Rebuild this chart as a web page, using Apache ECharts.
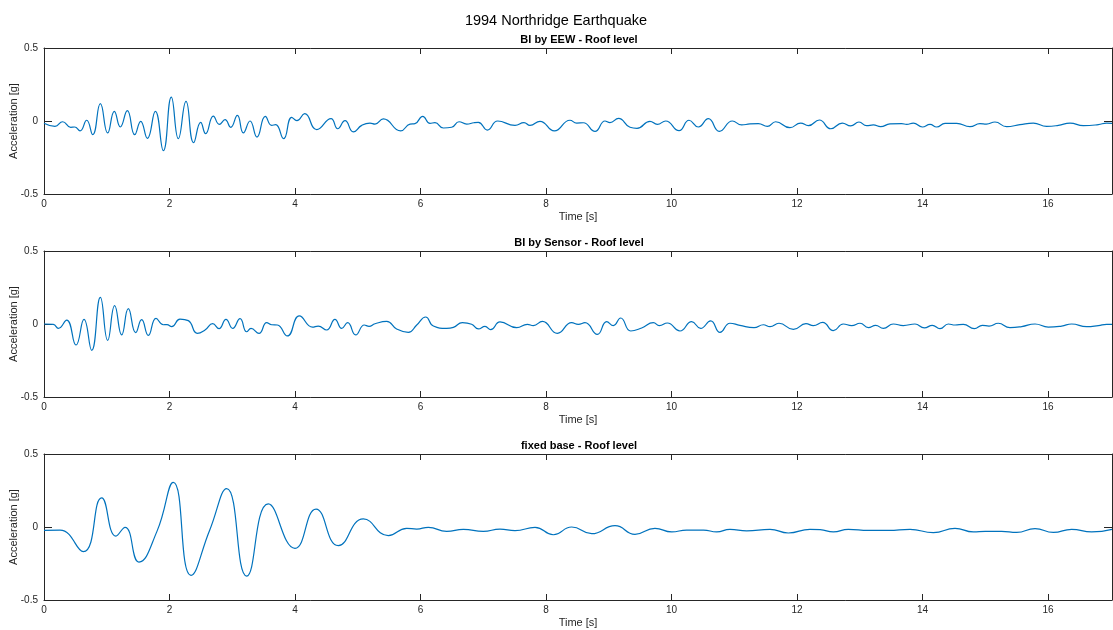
<!DOCTYPE html>
<html>
<head>
<meta charset="utf-8">
<script src="https://cdn.jsdelivr.net/npm/echarts@6/dist/echarts.min.js"></script>
<style>html,body{margin:0;padding:0;background:#fff}#c{width:1113px;height:630px}</style>
</head>
<body>
<div id="c"></div>
<script>
const figureTitle = '1994 Northridge Earthquake';
const panelTitles = ['BI by EEW - Roof level', 'BI by Sensor - Roof level', 'fixed base - Roof level'];
const xTickLabels = ['0', '2', '4', '6', '8', '10', '12', '14', '16'];
const yTickLabels = ['-0.5', '0', '0.5'];

const eewT = [0,0.175,0.297,0.425,0.489,0.574,0.680,0.776,0.898,1.015,1.121,1.216,1.328,1.445,1.541,1.647,1.774,1.902,2.029,2.141,2.263,2.385,2.497,2.576,2.699,2.794,2.885,2.975,3.081,3.177,3.283,3.394,3.527,3.628,3.692,3.819,3.947,4.03,4.154,4.345,4.574,4.680,4.797,4.930,5.063,5.195,5.275,5.408,5.684,5.833,5.912,6.035,6.151,6.231,6.364,6.497,6.614,6.736,6.850,6.922,7.065,7.230,7.506,7.649,7.745,7.904,8.133,8.382,8.489,8.595,8.781,8.940,9.020,9.156,9.339,9.450,9.657,9.774,9.907,10.120,10.279,10.428,10.587,10.762,10.970,11.118,11.250,11.384,11.527,11.660,11.888,12.058,12.181,12.356,12.537,12.722,12.855,12.988,13.110,13.216,13.333,13.482,13.668,13.748,13.854,13.998,14.120,14.226,14.359,14.545,14.757,14.916,15.020,15.155,15.341,15.554,15.766,15.979,16.165,16.351,16.563,16.802,16.935,17.02];
const eewA = [-0.016,-0.037,-0.005,-0.043,-0.041,-0.068,0.005,-0.094,0.119,-0.082,0.066,-0.041,0.071,-0.094,-0.002,-0.119,0.066,-0.203,0.164,-0.121,0.135,-0.148,-0.009,-0.087,0.034,-0.023,0.009,-0.043,0.039,-0.082,0.000,-0.110,0.032,-0.030,-0.025,-0.121,0.025,0.002,0.050,-0.059,0.016,-0.053,0.002,-0.075,-0.030,-0.014,-0.021,0.014,-0.068,-0.021,-0.018,0.032,-0.016,-0.011,-0.048,-0.043,-0.005,-0.021,-0.012,-0.009,-0.062,0.000,-0.030,-0.011,-0.030,-0.002,-0.068,0.005,-0.014,-0.012,-0.071,0.000,-0.011,0.018,-0.043,-0.050,-0.002,-0.023,0.000,-0.066,0.005,-0.041,0.016,-0.071,0.000,-0.027,-0.020,-0.018,-0.037,-0.005,-0.046,-0.014,-0.032,0.007,-0.053,-0.014,-0.034,-0.007,-0.032,-0.027,-0.039,-0.020,-0.018,-0.023,-0.014,-0.041,-0.023,-0.041,-0.016,-0.016,-0.039,-0.018,-0.021,-0.007,-0.039,-0.025,-0.014,-0.037,-0.030,-0.014,-0.032,-0.025,-0.014,-0.016];

const sensorT = [0,0.149,0.228,0.361,0.510,0.637,0.760,0.898,1.015,1.126,1.238,1.344,1.461,1.556,1.663,1.785,1.902,1.960,2.035,2.167,2.300,2.443,2.566,2.688,2.789,2.900,3.007,3.124,3.230,3.299,3.426,3.549,3.628,3.719,3.878,4.069,4.28,4.37,4.505,4.637,4.744,4.839,4.967,5.105,5.180,5.275,5.461,5.620,5.806,5.940,6.082,6.205,6.417,6.524,6.667,6.815,6.922,7.028,7.118,7.267,7.533,7.703,7.798,7.942,8.181,8.409,8.515,8.621,8.818,8.967,9.073,9.190,9.350,9.525,9.711,9.806,9.934,10.135,10.321,10.465,10.624,10.773,10.932,11.090,11.315,11.464,11.570,11.713,11.942,12.143,12.260,12.409,12.579,12.738,12.871,13.004,13.137,13.254,13.376,13.535,13.694,13.880,14.029,14.157,14.279,14.412,14.518,14.651,14.826,14.954,15.060,15.208,15.394,15.580,15.793,16.005,16.218,16.377,16.616,16.802,16.935,17.02];
const sensorA = [0.000,-0.003,-0.030,0.027,-0.144,0.032,-0.180,0.183,-0.112,0.126,-0.075,0.105,-0.059,0.030,-0.078,0.039,-0.005,-0.004,-0.018,0.034,0.023,-0.064,-0.041,0.002,-0.032,0.032,-0.030,0.037,-0.053,-0.030,-0.064,0.009,-0.005,-0.007,-0.082,0.055,-0.022,-0.014,-0.041,0.032,-0.030,0.009,-0.075,-0.007,-0.016,0.002,0.018,-0.034,-0.057,-0.007,0.048,-0.014,-0.030,-0.023,0.009,-0.002,-0.034,-0.016,-0.039,0.014,-0.025,-0.002,-0.011,0.018,-0.064,0.009,-0.002,0.009,-0.071,0.016,-0.011,0.041,-0.048,-0.027,0.009,-0.011,0.007,-0.048,0.016,-0.030,0.021,-0.057,0.005,-0.009,-0.025,-0.005,-0.018,0.005,-0.037,0.002,-0.011,0.011,-0.046,0.000,-0.011,0.005,-0.025,-0.009,-0.030,0.000,-0.011,0.000,-0.027,-0.009,-0.032,0.000,-0.007,-0.002,-0.032,-0.009,-0.014,0.005,-0.025,-0.018,0.000,-0.021,-0.014,0.000,-0.018,-0.011,-0.002,-0.002];

const fixedT = [0,0.255,0.627,0.919,1.147,1.291,1.514,1.800,2.061,2.343,2.640,2.911,3.230,3.575,4.000,4.335,4.691,5.089,5.487,5.780,5.940,6.125,6.417,6.683,7.001,7.267,7.506,7.825,8.117,8.409,8.728,9.100,9.418,9.737,10.003,10.240,10.510,10.720,10.932,11.198,11.570,11.862,12.207,12.370,12.579,12.818,13.140,13.459,13.801,14.173,14.518,14.810,15.000,15.260,15.501,15.793,16.085,16.377,16.696,17.02];
const fixedA = [-0.023,-0.021,-0.169,0.199,-0.062,-0.002,-0.240,-0.030,0.306,-0.331,-0.022,0.263,-0.336,0.158,-0.146,0.123,-0.128,0.055,-0.059,-0.009,-0.014,-0.002,-0.030,-0.016,-0.030,-0.014,-0.025,-0.002,-0.053,0.000,-0.046,0.009,-0.050,-0.009,-0.034,-0.021,-0.021,-0.034,-0.016,-0.027,-0.016,-0.041,-0.016,-0.018,-0.034,-0.016,-0.023,-0.023,-0.016,-0.039,-0.009,-0.034,-0.030,-0.030,-0.037,-0.011,-0.037,-0.016,-0.034,-0.016];

const seriesT = [eewT, sensorT, fixedT];
const seriesA = [eewA, sensorA, fixedA];

const FONT = '"Liberation Sans", Arial, Helvetica, sans-serif';
const AX = '#262626';
const LINE = '#0072BD';
const gridTops = [48, 251, 454];
const H = 146;

const grids = [], xAxes = [], yAxes = [], series = [], titles = [];
titles.push({text: figureTitle, left: 551, top: 8, textAlign: 'center',
  textStyle: {fontFamily: FONT, fontSize: 14.5, fontWeight: 'normal', color: '#000'}});

for (let i = 0; i < 3; i++) {
  grids.push({left: 44, top: gridTops[i], width: 1068, height: H, containLabel: false, outerBoundsMode: 'none'});
  titles.push({text: panelTitles[i], left: 574, top: gridTops[i] - 19, textAlign: 'center',
    textStyle: {fontFamily: FONT, fontSize: 11, fontWeight: 'bold', color: '#000'}});
  const xCommon = {type: 'value', gridIndex: i, min: 0, max: 17.02, interval: 2,
    axisLine: {show: true, onZero: false, lineStyle: {color: AX, width: 1}},
    axisTick: {show: true, inside: true, length: 6, lineStyle: {color: AX}},
    splitLine: {show: false}};
  xAxes.push(Object.assign({}, xCommon, {position: 'bottom',
    name: 'Time [s]', nameLocation: 'middle', nameGap: 17,
    nameTextStyle: {fontFamily: FONT, fontSize: 11, color: AX},
    axisLabel: {show: true, showMaxLabel: false, margin: 5, fontFamily: FONT, fontSize: 10, color: AX,
      formatter: v => (xTickLabels.indexOf(String(v)) >= 0 ? String(v) : '')}}));
  xAxes.push(Object.assign({}, xCommon, {position: 'top', axisLabel: {show: false}}));
  const yCommon = {type: 'value', gridIndex: i, min: -0.5, max: 0.5, interval: 0.5,
    axisLine: {show: true, onZero: false, lineStyle: {color: AX, width: 1}},
    axisTick: {show: true, inside: true, length: 8, lineStyle: {color: AX}},
    splitLine: {show: false}};
  yAxes.push(Object.assign({}, yCommon, {position: 'left',
    name: 'Acceleration [g]', nameLocation: 'middle', nameGap: 25, nameRotate: 90, nameMoveOverlap: false,
    nameTextStyle: {fontFamily: FONT, fontSize: 11, color: AX},
    axisLabel: {show: true, margin: 6, fontFamily: FONT, fontSize: 10, color: AX,
      formatter: v => (yTickLabels.indexOf(String(v)) >= 0 ? String(v) : '')}}));
  yAxes.push(Object.assign({}, yCommon, {position: 'right', axisLabel: {show: false}}));
  const data = seriesT[i].map((t, k) => [t, seriesA[i][k]]);
  series.push({type: 'line', xAxisIndex: 2 * i, yAxisIndex: 2 * i, data: data,
    smooth: 0.5, showSymbol: false, symbol: 'none', animation: false, clip: true,
    lineStyle: {color: LINE, width: 1.2}});
}

const chart = echarts.init(document.getElementById('c'), null, {renderer: 'canvas'});
chart.setOption({animation: false, backgroundColor: '#fff', title: titles, grid: grids,
  xAxis: xAxes, yAxis: yAxes, series: series});
</script>
</body>
</html>
